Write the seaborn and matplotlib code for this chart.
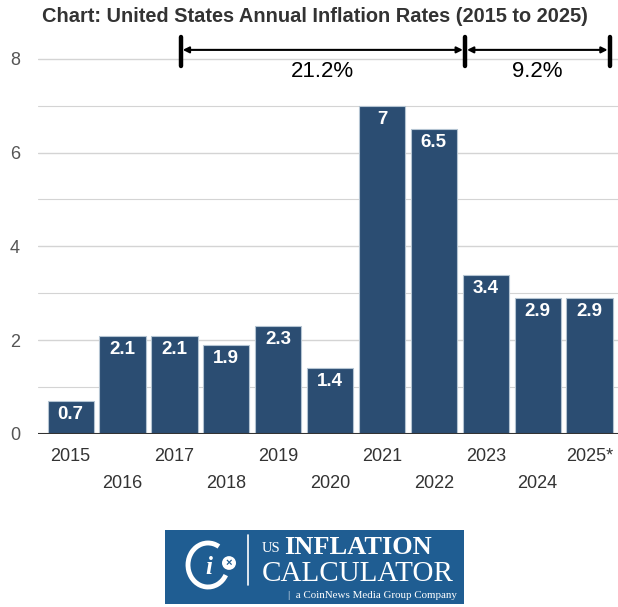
import matplotlib
matplotlib.use("Agg")
import matplotlib.pyplot as plt
import seaborn as sns
import pandas as pd
from matplotlib.patches import Rectangle, Circle, Arc

years = ["2015", "2016", "2017", "2018", "2019", "2020", "2021", "2022", "2023", "2024", "2025*"]
rates = [0.7, 2.1, 2.1, 1.9, 2.3, 1.4, 7.0, 6.5, 3.4, 2.9, 2.9]
rate_labels = ["0.7", "2.1", "2.1", "1.9", "2.3", "1.4", "7", "6.5", "3.4", "2.9", "2.9"]
span_labels = ["21.2%", "9.2%"]
span_edges = [2.12, 7.6, 10.39]

sns.set_theme(style="white")
plt.rcParams['font.family'] = ['Liberation Sans', 'DejaVu Sans']

df = pd.DataFrame({"year": years, "rate": rates})

fig = plt.figure(figsize=(6.18, 6.07), dpi=100)
ax_bottom = (607 - 434) / 607
unit = 46.9
ymax = 8.6
ax_h = ymax * unit / 607
ax = fig.add_axes([38 / 618, ax_bottom, 580 / 618, ax_h])

sns.barplot(data=df, x="year", y="rate", ax=ax, color="#2b4d72", saturation=1,
            width=0.89, edgecolor="#b4c4d2", linewidth=0.8, zorder=3)

ax.set_xlim(-0.63, 10.55)
ax.set_ylim(0, ymax)
for s in ax.spines.values():
    s.set_visible(False)
for g in range(1, 9):
    ax.axhline(g, color="#d4d4d4", lw=1.0 if g % 2 == 0 else 0.8, zorder=1)
ax.axhline(0, color="#333333", lw=1.5, zorder=4)

ax.set_yticks([0, 2, 4, 6, 8])
ax.set_yticklabels(["0", "2", "4", "6", "8"], fontsize=13, color="#555555")
ax.tick_params(axis="y", length=0, pad=13)
ax.set_xticks(range(len(years)))
ax.set_xticklabels([])
ax.tick_params(axis="x", length=0)
for i, y in enumerate(years):
    yoff = -0.47 if i % 2 == 0 else -1.05
    ax.text(i, yoff, y, ha="center", va="center", fontsize=13, color="#333333",
            clip_on=False)
ax.set_xlabel("")
ax.set_ylabel("")

for i, (v, lab) in enumerate(zip(rates, rate_labels)):
    ax.text(i, v - 0.11, lab, ha="center", va="top", fontsize=13.5,
            fontweight="bold", color="white", zorder=5)

# span annotations
for xe in span_edges:
    ax.plot([xe, xe], [7.85, 8.47], color="black", lw=3.2, solid_capstyle="round",
            zorder=6, clip_on=False)
for k in range(2):
    ax.annotate("", xy=(span_edges[k + 1] - 0.04, 8.19), xytext=(span_edges[k] + 0.04, 8.19),
                arrowprops=dict(arrowstyle="<|-|>", color="black", lw=1.5,
                                mutation_scale=9, shrinkA=0, shrinkB=0),
                zorder=6, annotation_clip=False)
    ax.text((span_edges[k] + span_edges[k + 1]) / 2, 7.72, span_labels[k],
            ha="center", va="center", fontsize=16, color="black", zorder=6)

fig.text(42 / 618, 1 - 16 / 607, "Chart: United States Annual Inflation Rates (2015 to 2025)",
         ha="left", va="center", fontsize=14.4, fontweight="bold", color="#333333")

# logo
lx0, lx1 = 165 / 618, 464 / 618
ly0, ly1 = 3 / 607, 77 / 607
fig.patches.append(Rectangle((lx0, ly0), lx1 - lx0, ly1 - ly0, transform=fig.transFigure,
                             facecolor="#1f5d92", edgecolor="none"))
serif = ['Liberation Serif', 'DejaVu Serif']
fig.patches.append(Arc((208 / 618, 1 - 565 / 607), 40 / 618, 44 / 607, theta1=60, theta2=330,
                       transform=fig.transFigure, color="white", lw=3.5))
fig.text(209 / 618, 1 - 567 / 607, "i", ha="center", va="center", fontsize=18,
         family=serif, style="italic", fontweight="bold", color="white")
fig.patches.append(Circle((229 / 618, 1 - 563 / 607), 7 / 618, transform=fig.transFigure,
                          facecolor="white", edgecolor="none"))
fig.text(229 / 618, 1 - 563 / 607, "×", ha="center", va="center", fontsize=8,
         fontweight="bold", color="#1f5d92")
fig.lines.append(plt.Line2D([248 / 618, 248 / 618], [1 - 585 / 607, 1 - 535 / 607],
                            transform=fig.transFigure, color="white", lw=1.2))
fig.text(262 / 618, 1 - 549 / 607, "US", ha="left", va="center", fontsize=10.5,
         family=serif, color="white")
fig.text(284 / 618, 1 - 548 / 607, "INFLATION", ha="left", va="center", fontsize=19,
         family=serif, fontweight="bold", color="white")
fig.text(262 / 618, 1 - 574 / 607, "CALCULATOR", ha="left", va="center", fontsize=21,
         family=serif, color="white")
fig.text(288 / 618, 1 - 596 / 607, "|  a CoinNews Media Group Company", ha="left", va="center",
         fontsize=7.9, family=serif, color="white")

fig.savefig("out.png", dpi=100, facecolor="white")
